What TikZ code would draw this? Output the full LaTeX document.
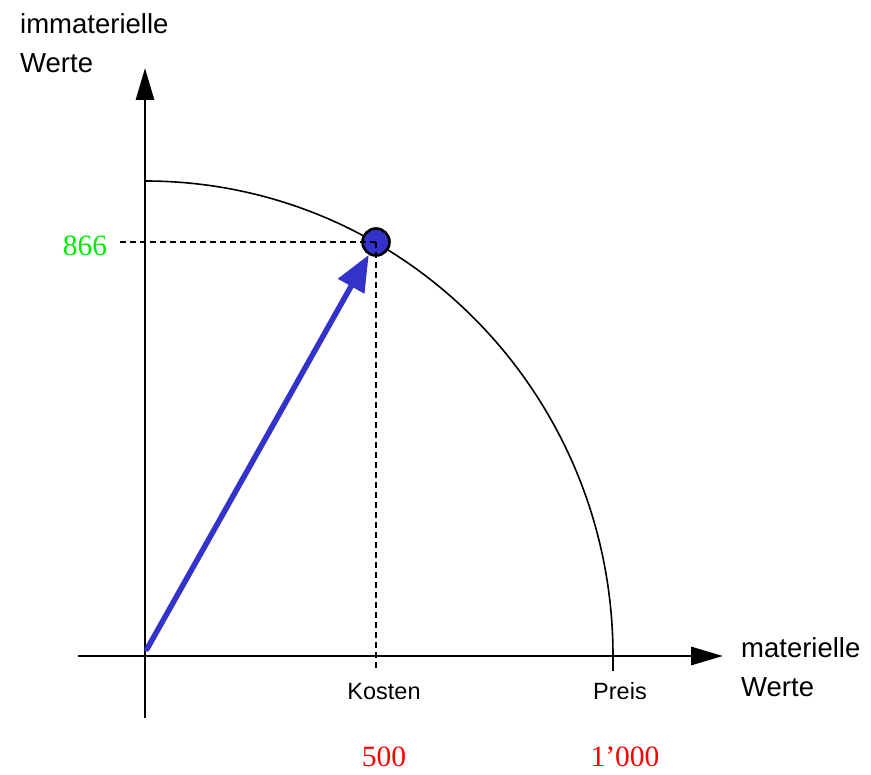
\documentclass[tikz,border=0pt]{standalone}
\usepackage{fontspec}
\setmainfont{Liberation Sans}
\newfontfamily\numfont{Liberation Serif}
\usetikzlibrary{arrows.meta}
\definecolor{vecblue}{RGB}{51,51,204}
\definecolor{numgreen}{RGB}{0,235,0}
\definecolor{numred}{RGB}{255,0,0}
\tikzset{
  axisline/.style={line width=2.9pt, -{Triangle[length=32pt,width=18pt]}},
  dotline/.style={line width=2.6pt, dash pattern=on 6pt off 4pt},
  arcline/.style={line width=1.6pt},
  vecline/.style={line width=5.5pt, vecblue, line cap=round, -{Triangle[length=36pt,width=29pt]}},
  ptnode/.style={circle, draw=black, line width=2.6pt, fill=vecblue, minimum size=27pt, inner sep=0pt},
  biglabel/.style={font=\fontsize{27.5}{39}\selectfont, align=left, inner sep=0pt},
  ticklabel/.style={font=\fontsize{23.5}{26}\selectfont, inner sep=0pt, anchor=base},
  numlabel/.style={font=\numfont\fontsize{29.5}{32}\selectfont, inner sep=0pt, anchor=base},
  tickline/.style={line width=2.9pt}
}
\begin{document}
\begin{tikzpicture}[x=1pt,y=-1pt]
\useasboundingbox (0,0) rectangle (871,775);
% axes
\coordinate (O) at (145,656);
\coordinate (ybot) at (145,718);
\coordinate (ytop) at (145,68);
\coordinate (xleft) at (78,656);
\coordinate (xright) at (723,656);
\draw[axisline] (ybot) -- (ytop);
\draw[axisline] (xleft) -- (xright);
% arc
\coordinate (arctop) at (145,181);
\draw[arcline] (arctop) arc[start angle=90, end angle=0, x radius=468, y radius=-475];
% preis tick
\coordinate (pt1) at (613,650);
\coordinate (pt2) at (613,671);
\draw[tickline] (pt1) -- (pt2);
% point
\node[ptnode] (P) at (376,242) {};
\coordinate (yd) at (120,242);
\coordinate (xd) at (376,671);
\draw[dotline] (yd) -- (P.center);
\draw[dotline] (P.center) -- (xd);
% vector
\coordinate (vs) at (147,649);
\draw[vecline] (vs) -- (P);
% labels
\node[biglabel, anchor=north west] (ylab) at (20,13) {immaterielle\\Werte};
\node[biglabel, anchor=north west] (xlab) at (741,637) {materielle\\Werte};
\node[ticklabel] (kosten) at (384,699) {Kosten};
\node[ticklabel] (preis) at (620,699) {Preis};
\node[numlabel, text=numgreen] (n866) at (85,256) {866};
\node[numlabel, text=numred] (n500) at (384,766) {500};
\node[numlabel, text=numred] (n1000) at (625,766) {1’000};
\end{tikzpicture}
\end{document}
